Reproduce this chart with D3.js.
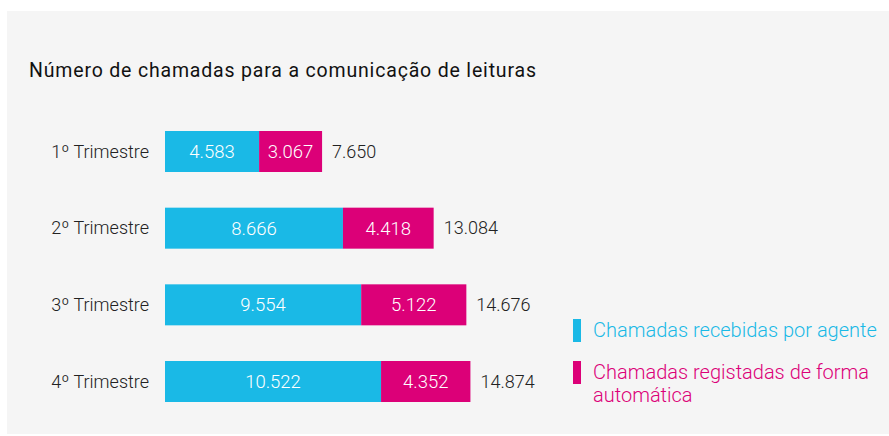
<!DOCTYPE html>
<html lang="pt">
<head>
    <meta charset="utf-8">
    <title>Número de chamadas para a comunicação de leituras</title>
    <script src="https://cdn.jsdelivr.net/npm/d3@7"></script>
    <style>
        body { margin: 0; background: #fff; }
        svg { display: block; font-family: Roboto, "Liberation Sans", sans-serif; }
        text.title { font-size: 19.5px; fill: #111; }
        text.cat { font-size: 18px; fill: #222; text-anchor: end; font-weight: 300; }
        text.val { font-size: 18.5px; fill: #fff; text-anchor: middle; font-weight: 300; }
        text.total { font-size: 18px; fill: #222; font-weight: 300; }
        text.legend { font-size: 20px; font-weight: 300; }
    </style>
</head>
<body>
<script>
    // DATA
    const quarters = ["1º Trimestre", "2º Trimestre", "3º Trimestre", "4º Trimestre"];
    const agente = [4583, 8666, 9554, 10522];
    const automatica = [3067, 4418, 5122, 4352];
    const seriesNames = ["Chamadas recebidas por agente", "Chamadas registadas de forma automática"];
    const colors = ["#1ab9e6", "#dc0078"];

    const fmt = v => d3.format(",")(v).replace(/,/g, ".");

    const dim = { width: 889, height: 436 };

    const svg = d3.select("body").append("svg")
        .attr("width", dim.width)
        .attr("height", dim.height);

    // panel background
    svg.append("rect")
        .attr("x", 7).attr("y", 11)
        .attr("width", dim.width - 7).attr("height", 423)
        .attr("fill", "#f5f5f5");

    svg.append("text")
        .attr("class", "title")
        .attr("x", 29).attr("y", 77)
        .attr("textLength", 507)
        .attr("lengthAdjust", "spacing")
        .text("Número de chamadas para a comunicação de leituras");

    const rows = quarters.map((q, i) => ({ q, a: agente[i], b: automatica[i], total: agente[i] + automatica[i] }));

    const x = d3.scaleLinear().domain([0, 15000]).range([165, 473]);
    const y = d3.scalePoint().domain(quarters).range([151.5, 381.5]);
    const barH = 41;

    const g = svg.selectAll("g.row")
        .data(rows)
        .join("g")
        .attr("class", "row")
        .attr("transform", d => `translate(0,${y(d.q)})`);

    g.append("rect")
        .attr("x", x(0))
        .attr("y", -barH / 2)
        .attr("width", d => x(d.a) - x(0))
        .attr("height", barH)
        .attr("fill", colors[0]);

    g.append("rect")
        .attr("x", d => x(d.a))
        .attr("y", -barH / 2)
        .attr("width", d => x(d.total) - x(d.a))
        .attr("height", barH)
        .attr("fill", colors[1]);

    g.append("text")
        .attr("class", "val")
        .attr("x", d => (x(0) + x(d.a)) / 2)
        .attr("dy", "0.35em")
        .text(d => fmt(d.a));

    g.append("text")
        .attr("class", "val")
        .attr("x", d => (x(d.a) + x(d.total)) / 2)
        .attr("dy", "0.35em")
        .text(d => fmt(d.b));

    g.append("text")
        .attr("class", "total")
        .attr("x", d => x(d.total) + 10)
        .attr("dy", "0.35em")
        .text(d => fmt(d.total));

    g.append("text")
        .attr("class", "cat")
        .attr("x", 149)
        .attr("dy", "0.35em")
        .text(d => d.q);

    // legend
    const legend = svg.append("g").attr("transform", "translate(573,319)");
    const legendLines = [["Chamadas recebidas por agente"], ["Chamadas registadas de forma", "automática"]];
    const li = legend.selectAll("g")
        .data(seriesNames)
        .join("g")
        .attr("transform", (d, i) => `translate(0,${i * 42})`);
    li.append("rect")
        .attr("width", 8).attr("height", 23)
        .attr("fill", (d, i) => colors[i]);
    li.append("text")
        .attr("class", "legend")
        .attr("fill", (d, i) => colors[i])
        .selectAll("tspan")
        .data((d, i) => legendLines[i])
        .join("tspan")
        .attr("x", 20)
        .attr("y", (d, j) => 18 + j * 23)
        .text(d => d);
</script>
</body>
</html>
